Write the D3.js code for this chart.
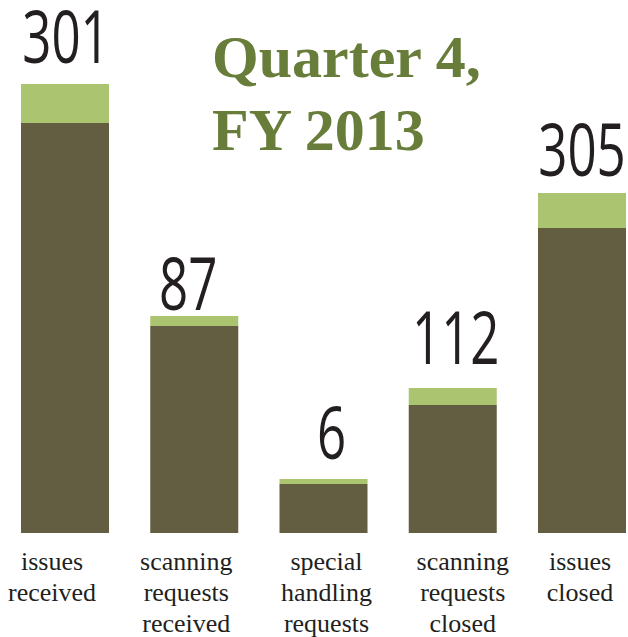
<!DOCTYPE html>
<html>
<head>
<meta charset="utf-8">
<script src="https://cdn.jsdelivr.net/npm/d3@7.9.0/dist/d3.min.js"></script>
<style>
  html, body { margin: 0; padding: 0; background: #fff; }
  svg { display: block; }
  .cat, .cat tspan { font-family: "Liberation Serif", "Times New Roman", serif; }
</style>
</head>
<body>
<div id="chart"></div>
<script>
// chart values
const categories = [
  ['issues', 'received'],
  ['scanning', 'requests', 'received'],
  ['special', 'handling', 'requests'],
  ['scanning', 'requests', 'closed'],
  ['issues', 'closed'],
];
const totals = [301, 87, 6, 112, 305];
// bar segments as drawn (bar heights are not proportional to totals in the original)
const baseSegment = [410, 207, 49, 128, 305];
const topSegment = [39, 10, 5, 17, 35];
const titleLines = ['Quarter 4,', 'FY 2013'];

// small text nudges to follow the original layout
const valueDx = [1, -6, 8, 3, 0];
const valueGap = [21, 6, 20, 24, 17];
const catDx = [-13, -8, 3, 10, -2];

const width = 628;
const height = 637;
const baseline = 533;

const svg = d3.select('#chart')
  .append('svg')
  .attr('width', width)
  .attr('height', height);

const xScale = d3.scaleBand()
  .domain(d3.range(totals.length))
  .range([21, 626])
  .paddingInner(0.319)
  .paddingOuter(0);

const yScale = d3.scaleLinear()
  .domain([0, 449])
  .range([baseline, 84]);

const rows = totals.map((t, i) => ({
  i,
  total: t,
  base: baseSegment[i],
  top: topSegment[i],
  label: categories[i],
}));

// dark lower part
svg.append('g')
  .selectAll('rect')
  .data(rows)
  .join('rect')
  .attr('x', d => xScale(d.i))
  .attr('width', xScale.bandwidth())
  .attr('y', d => yScale(d.base))
  .attr('height', d => yScale(0) - yScale(d.base))
  .attr('fill', '#635e41');

// light cap
svg.append('g')
  .selectAll('rect')
  .data(rows)
  .join('rect')
  .attr('x', d => xScale(d.i))
  .attr('width', xScale.bandwidth())
  .attr('y', d => yScale(d.base + d.top))
  .attr('height', d => yScale(d.base) - yScale(d.base + d.top))
  .attr('fill', '#abc46f');

// big totals (condensed look: squeeze a humanist sans horizontally)
svg.append('g')
  .selectAll('text')
  .data(rows)
  .join('text')
  .attr('transform', d => {
    const x = xScale(d.i) + xScale.bandwidth() / 2 + valueDx[d.i];
    const y = yScale(d.base + d.top) - valueGap[d.i];
    return `translate(${x},${y}) scale(0.7,1)`;
  })
  .attr('text-anchor', 'middle')
  .attr('font-family', '"Open Sans", Roboto, sans-serif')
  .attr('font-weight', 500)
  .attr('font-size', 73)
  .attr('fill', '#231f20')
  .text(d => d.total);

// category labels
const cats = svg.append('g')
  .selectAll('text')
  .data(rows)
  .join('text')
  .attr('class', 'cat')
  .attr('x', d => xScale(d.i) + xScale.bandwidth() / 2 + catDx[d.i])
  .attr('y', 570)
  .attr('text-anchor', 'middle')
  .attr('font-family', '"Liberation Serif", serif')
  .attr('font-size', 26)
  .attr('fill', '#231f20');

cats.selectAll('tspan')
  .data(d => d.label.map(w => ({ w, x: xScale(d.i) + xScale.bandwidth() / 2 + catDx[d.i] })))
  .join('tspan')
  .attr('x', d => d.x)
  .attr('dy', (d, j) => j === 0 ? 0 : 31)
  .text(d => d.w);

// title
svg.append('g')
  .selectAll('text')
  .data(titleLines)
  .join('text')
  .attr('x', 212)
  .attr('y', (d, i) => 77 + i * 73)
  .attr('font-family', '"Liberation Serif", serif')
  .attr('font-weight', 'bold')
  .attr('font-size', 60)
  .attr('fill', '#687d39')
  .text(d => d);
</script>
</body>
</html>
